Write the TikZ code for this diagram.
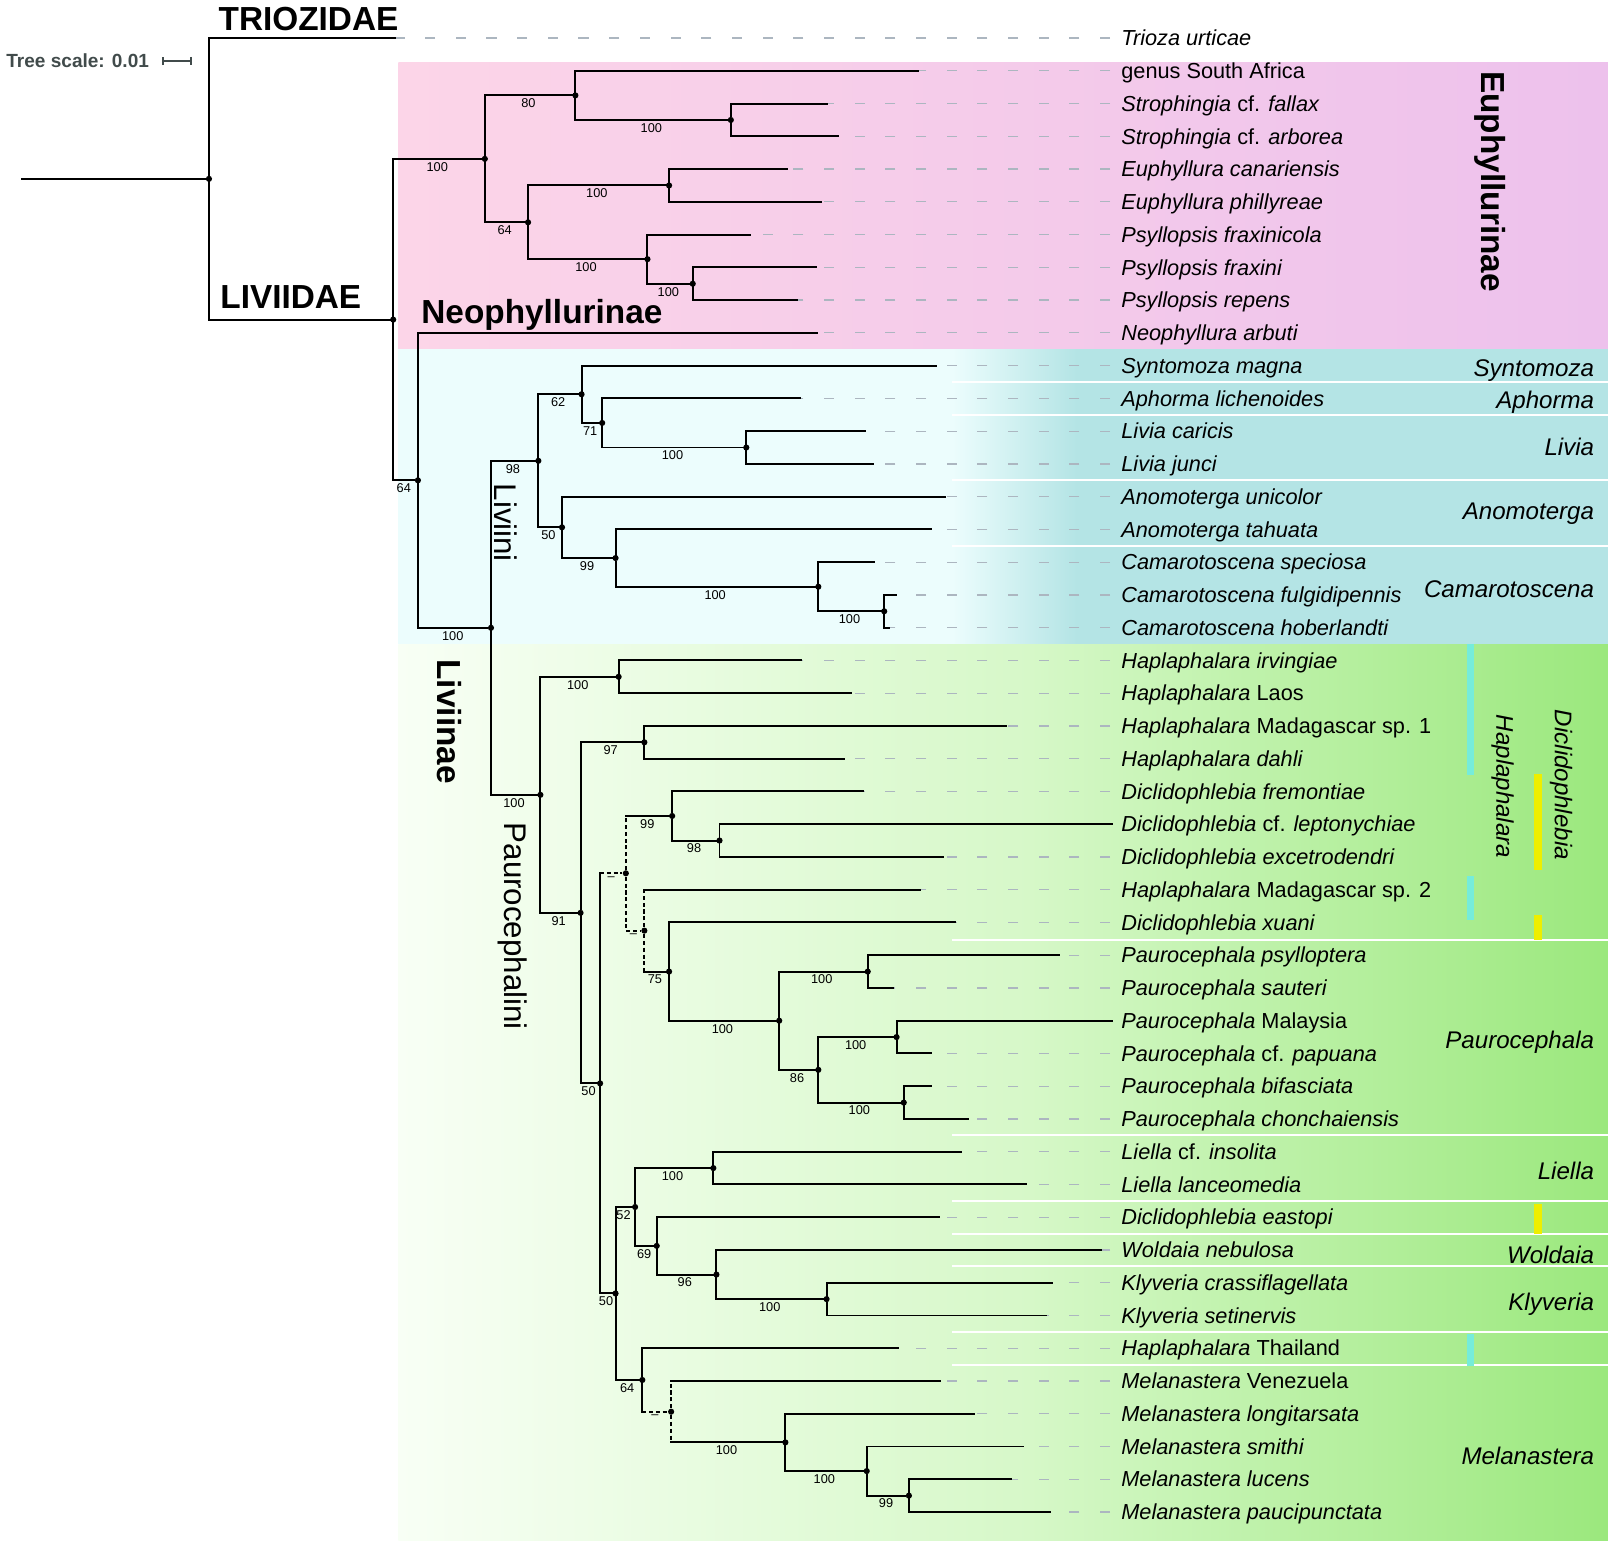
\documentclass[tikz,border=0pt]{standalone}
\usepackage{fontspec}
\setmainfont{Liberation Sans}
\usetikzlibrary{arrows.meta,positioning}
\definecolor{euphpink}{RGB}{252,213,232}
\definecolor{euphlilac}{RGB}{237,193,236}
\definecolor{livpale}{RGB}{236,253,253}
\definecolor{livteal}{RGB}{180,228,229}
\definecolor{paurpale}{RGB}{248,255,245}
\definecolor{paurmid}{RGB}{214,248,200}
\definecolor{paurgreen}{RGB}{155,232,125}
\definecolor{barcyan}{RGB}{118,236,218}
\definecolor{baryellow}{RGB}{238,238,0}
\definecolor{tipgray}{RGB}{172,182,192}
\definecolor{scalegray}{RGB}{65,75,75}

\begin{document}
\begin{tikzpicture}[
  x=0.5pt, y=-15.91pt,
  branch/.style={line width=0.95pt, line cap=rect},
  nosupport/.style={line width=0.95pt, dash pattern=on 2pt off 1.3pt},
  tipline/.style={draw=tipgray, line width=0.6pt, dash pattern=on 4.9pt off 10pt},
  sepline/.style={draw=white, line width=1pt},
  nodedot/.style={circle, fill=black, inner sep=0pt, minimum size=3pt},
  taxon/.style={anchor=west, inner xsep=5.3pt, inner ysep=0pt, text height=7.5pt,
                text depth=0pt, font=\fontsize{10.55}{12}\selectfont},
  genus/.style={anchor=east, inner sep=0pt, text height=8.4pt, text depth=0pt,
                font=\fontsize{11.7}{13}\selectfont\itshape},
  clade/.style={inner sep=0pt, font=\fontsize{16.2}{18}\selectfont\bfseries},
  tribe/.style={inner sep=0pt, font=\fontsize{15.2}{17}\selectfont},
  bs/.style={below=1.2pt, pos=.75, inner sep=0pt, font=\fontsize{6.2}{7}\selectfont}
]
\useasboundingbox (0,-1.163) rectangle (1568,46.04);

% Backgrounds
\shade[left color=euphpink, right color=euphlilac] (387,0.75) rectangle (1562,9.5);
\fill[livpale] (387,9.5) rectangle (926,18.5);
\shade[left color=livpale, right color=livteal] (925,9.5) rectangle (1046,18.5);
\fill[livteal] (1045,9.5) rectangle (1562,18.5);
\shade[left color=paurpale, right color=paurmid] (387,18.5) rectangle (1001,45.88);
\shade[left color=paurmid, right color=paurgreen] (1000,18.5) rectangle (1562,45.88);
\foreach \y in {10.5,11.5,13.5,15.5,27.55,33.5,35.5,36.5,37.5,39.5,40.5}
  \draw[sepline] (925,\y) -- (1562,\y);

% Genus bars
\fill[barcyan] (1425.5,18.5) rectangle (1432.3,22.5);
\fill[barcyan] (1425.5,25.58) rectangle (1432.3,26.93);
\fill[barcyan] (1425.5,39.57) rectangle (1432.3,40.54);
\fill[baryellow] (1490.5,22.47) rectangle (1497.8,25.39);
\fill[baryellow] (1490.5,26.78) rectangle (1497.8,27.53);
\fill[baryellow] (1490.5,35.6) rectangle (1497.8,36.5);

% Group labels
\node[clade, anchor=base west] (triozidae) at (212,-0.226) {TRIOZIDAE};
\node[clade, anchor=base west] (liviidae) at (213.7,8.253) {LIVIIDAE};
\node[clade, anchor=base west] (neophyllurinae) at (409,8.705) {Neophyllurinae};
\node[clade, rotate=-90] (euphyllurinae) at (1448,4.38) {Euphyllurinae};
\node[clade, rotate=-90] (liviinae-lab) at (437,20.87) {Liviinae};
\node[tribe, rotate=-90] (liviini-lab) at (491,14.8) {Liviini};
\node[tribe, rotate=-90] (paur-lab) at (498,27.12) {Paurocephalini};
\node[genus] (g-synto) at (1549,10.06) {Syntomoza};
\node[genus] (g-aphorma) at (1549,11.06) {Aphorma};
\node[genus] (g-livia) at (1549,12.48) {Livia};
\node[genus] (g-anomo) at (1549,14.42) {Anomoterga};
\node[genus] (g-camaro) at (1549,16.81) {Camarotoscena};
\node[genus, anchor=center, rotate=-90] (g-haplo) at (1462,22.85) {Haplaphalara};
\node[genus, anchor=center, rotate=-90] (g-diclido) at (1519,22.8) {Diclidophlebia};
\node[genus] (g-pauro) at (1549,30.58) {Paurocephala};
\node[genus] (g-liella) at (1549,34.57) {Liella};
\node[genus] (g-woldaia) at (1549,37.14) {Woldaia};
\node[genus] (g-klyveria) at (1549,38.59) {Klyveria};
\node[genus] (g-melan) at (1549,43.3) {Melanastera};

% Tree scale
\node[anchor=west, inner sep=0pt, font=\fontsize{9.25}{11}\selectfont\bfseries,
      text=scalegray] (tscale) at (5.8,0.7) {Tree scale: 0.01};
\coordinate[right=6.2pt of tscale.east] (sb-l);
\coordinate[right=14.5pt of sb-l] (sb-r);
\draw[scalegray, line width=0.8pt, {Bar[width=4pt]}-{Bar[width=4pt]}] (sb-l) -- (sb-r);

% Taxa
\node[taxon] (trioza) at (1078.4,0) {\textit{Trioza urticae}}; \coordinate (trioza-t) at (384,0);
\node[taxon] (gsa) at (1078.4,1) {genus South Africa}; \coordinate (gsa-t) at (892,1);
\node[taxon] (fallax) at (1078.4,2) {\textit{Strophingia} cf. \textit{fallax}}; \coordinate (fallax-t) at (803,2);
\node[taxon] (arborea) at (1078.4,3) {\textit{Strophingia} cf. \textit{arborea}}; \coordinate (arborea-t) at (814,3);
\node[taxon] (canar) at (1078.4,4) {\textit{Euphyllura canariensis}}; \coordinate (canar-t) at (765,4);
\node[taxon] (phill) at (1078.4,5) {\textit{Euphyllura phillyreae}}; \coordinate (phill-t) at (798,5);
\node[taxon] (fraxinicola) at (1078.4,6) {\textit{Psyllopsis fraxinicola}}; \coordinate (fraxinicola-t) at (729,6);
\node[taxon] (fraxini) at (1078.4,7) {\textit{Psyllopsis fraxini}}; \coordinate (fraxini-t) at (793,7);
\node[taxon] (repens) at (1078.4,8) {\textit{Psyllopsis repens}}; \coordinate (repens-t) at (774,8);
\node[taxon] (neophyllura) at (1078.4,9) {\textit{Neophyllura arbuti}}; \coordinate (neophyllura-t) at (794,9);
\node[taxon] (syntomoza) at (1078.4,10) {\textit{Syntomoza magna}}; \coordinate (syntomoza-t) at (909,10);
\node[taxon] (aphorma) at (1078.4,11) {\textit{Aphorma lichenoides}}; \coordinate (aphorma-t) at (777,11);
\node[taxon] (caricis) at (1078.4,12) {\textit{Livia caricis}}; \coordinate (caricis-t) at (840,12);
\node[taxon] (junci) at (1078.4,13) {\textit{Livia junci}}; \coordinate (junci-t) at (848,13);
\node[taxon] (unicolor) at (1078.4,14) {\textit{Anomoterga unicolor}}; \coordinate (unicolor-t) at (918,14);
\node[taxon] (tahuata) at (1078.4,15) {\textit{Anomoterga tahuata}}; \coordinate (tahuata-t) at (904,15);
\node[taxon] (speciosa) at (1078.4,16) {\textit{Camarotoscena speciosa}}; \coordinate (speciosa-t) at (849,16);
\node[taxon] (fulgidi) at (1078.4,17) {\textit{Camarotoscena fulgidipennis}}; \coordinate (fulgidi-t) at (870,17);
\node[taxon] (hoberl) at (1078.4,18) {\textit{Camarotoscena hoberlandti}}; \coordinate (hoberl-t) at (864,18);
\node[taxon] (irving) at (1078.4,19) {\textit{Haplaphalara irvingiae}}; \coordinate (irving-t) at (778,19);
\node[taxon] (laos) at (1078.4,20) {\textit{Haplaphalara} Laos}; \coordinate (laos-t) at (827,20);
\node[taxon] (mad1) at (1078.4,21) {\textit{Haplaphalara} Madagascar sp. 1}; \coordinate (mad1-t) at (977,21);
\node[taxon] (dahli) at (1078.4,22) {\textit{Haplaphalara dahli}}; \coordinate (dahli-t) at (820,22);
\node[taxon] (fremont) at (1078.4,23) {\textit{Diclidophlebia fremontiae}}; \coordinate (fremont-t) at (838,23);
\node[taxon] (lepto) at (1078.4,24) {\textit{Diclidophlebia} cf. \textit{leptonychiae}}; \coordinate (lepto-t) at (1080,24);
\node[taxon] (excet) at (1078.4,25) {\textit{Diclidophlebia excetrodendri}}; \coordinate (excet-t) at (916,25);
\node[taxon] (mad2) at (1078.4,26) {\textit{Haplaphalara} Madagascar sp. 2}; \coordinate (mad2-t) at (894,26);
\node[taxon] (xuani) at (1078.4,27) {\textit{Diclidophlebia xuani}}; \coordinate (xuani-t) at (928,27);
\node[taxon] (psyllo) at (1078.4,28) {\textit{Paurocephala psylloptera}}; \coordinate (psyllo-t) at (1029,28);
\node[taxon] (sauteri) at (1078.4,29) {\textit{Paurocephala sauteri}}; \coordinate (sauteri-t) at (868,29);
\node[taxon] (malaysia) at (1078.4,30) {\textit{Paurocephala} Malaysia}; \coordinate (malaysia-t) at (1080,30);
\node[taxon] (papuana) at (1078.4,31) {\textit{Paurocephala} cf. \textit{papuana}}; \coordinate (papuana-t) at (904,31);
\node[taxon] (bifasc) at (1078.4,32) {\textit{Paurocephala bifasciata}}; \coordinate (bifasc-t) at (904,32);
\node[taxon] (chonch) at (1078.4,33) {\textit{Paurocephala chonchaiensis}}; \coordinate (chonch-t) at (940,33);
\node[taxon] (insolita) at (1078.4,34) {\textit{Liella} cf. \textit{insolita}}; \coordinate (insolita-t) at (934,34);
\node[taxon] (lanceo) at (1078.4,35) {\textit{Liella lanceomedia}}; \coordinate (lanceo-t) at (997,35);
\node[taxon] (eastopi) at (1078.4,36) {\textit{Diclidophlebia eastopi}}; \coordinate (eastopi-t) at (912,36);
\node[taxon] (woldaia) at (1078.4,37) {\textit{Woldaia nebulosa}}; \coordinate (woldaia-t) at (1070,37);
\node[taxon] (crass) at (1078.4,38) {\textit{Klyveria crassiflagellata}}; \coordinate (crass-t) at (1022,38);
\node[taxon] (setin) at (1078.4,39) {\textit{Klyveria setinervis}}; \coordinate (setin-t) at (1016,39);
\node[taxon] (thailand) at (1078.4,40) {\textit{Haplaphalara} Thailand}; \coordinate (thailand-t) at (872,40);
\node[taxon] (venez) at (1078.4,41) {\textit{Melanastera} Venezuela}; \coordinate (venez-t) at (913,41);
\node[taxon] (longit) at (1078.4,42) {\textit{Melanastera longitarsata}}; \coordinate (longit-t) at (946,42);
\node[taxon] (smithi) at (1078.4,43) {\textit{Melanastera smithi}}; \coordinate (smithi-t) at (994,43);
\node[taxon] (lucens) at (1078.4,44) {\textit{Melanastera lucens}}; \coordinate (lucens-t) at (982,44);
\node[taxon] (pauci) at (1078.4,45) {\textit{Melanastera paucipunctata}}; \coordinate (pauci-t) at (1020,45);

\foreach \n in {trioza,gsa,fallax,arborea,canar,phill,fraxinicola,fraxini,repens,
  neophyllura,syntomoza,aphorma,caricis,junci,unicolor,tahuata,speciosa,fulgidi,
  hoberl,irving,laos,mad1,dahli,fremont,lepto,excet,mad2,xuani,psyllo,sauteri,
  malaysia,papuana,bifasc,chonch,insolita,lanceo,eastopi,woldaia,crass,setin,
  thailand,venez,longit,smithi,lucens,pauci}
  \draw[tipline] (\n.west) -- (\n-t);

% Internal nodes
\coordinate (stem) at (21,4.2975);
\node[nodedot] (root) at (203,4.2975) {};
\node[nodedot] (liv) at (382,8.595) {};
\node[nodedot] (euph) at (471,3.6875) {};
\node[nodedot] (n80) at (559,1.75) {};
\node[nodedot] (nstr) at (710,2.5) {};
\node[nodedot] (n64e) at (513,5.625) {};
\node[nodedot] (neu) at (650,4.5) {};
\node[nodedot] (npsy) at (629,6.75) {};
\node[nodedot] (npsy2) at (673,7.5) {};
\node[nodedot] (n64a) at (406,13.5025) {};
\node[nodedot] (liviinae) at (477,18.005) {};
\node[nodedot] (liviini) at (523,12.906) {};
\node[nodedot] (n62) at (565,10.875) {};
\node[nodedot] (n71) at (585,11.75) {};
\node[nodedot] (nliv) at (725,12.5) {};
\node[nodedot] (n50a) at (546,14.9375) {};
\node[nodedot] (n99a) at (598,15.875) {};
\node[nodedot] (ncam) at (795,16.75) {};
\node[nodedot] (ncam2) at (859,17.5) {};
\node[nodedot] (paur) at (525,23.104) {};
\node[nodedot] (nhap) at (601,19.5) {};
\node[nodedot] (n91) at (564,26.707) {};
\node[nodedot] (n97) at (626,21.5) {};
\node[nodedot] (n50b) at (583,31.914) {};
\node[nodedot] (dsh1) at (608,25.5) {};
\node[nodedot] (n99b) at (653,23.75) {};
\node[nodedot] (n98) at (699,24.5) {};
\node[nodedot] (dsh2) at (626,27.25) {};
\node[nodedot] (n75) at (650,28.5) {};
\node[nodedot] (nps) at (757,30) {};
\node[nodedot] (npsy3) at (843,28.5) {};
\node[nodedot] (n86) at (795,31.5) {};
\node[nodedot] (nmal) at (871,30.5) {};
\node[nodedot] (nbif) at (878,32.5) {};
\node[nodedot] (n50c) at (598,38.328) {};
\node[nodedot] (n52) at (617,35.6875) {};
\node[nodedot] (nlie) at (693,34.5) {};
\node[nodedot] (n69) at (638,36.875) {};
\node[nodedot] (n96) at (696,37.75) {};
\node[nodedot] (nkly) at (803,38.5) {};
\node[nodedot] (n64b) at (624,40.96875) {};
\node[nodedot] (dsh3) at (652,41.9375) {};
\node[nodedot] (nmel) at (763,42.875) {};
\node[nodedot] (nmel2) at (842,43.75) {};
\node[nodedot] (n99c) at (883,44.5) {};

% Liviidae
\draw[branch] (stem) -- (root);
\draw[branch] (root) |- (trioza-t);
\draw[branch] (root) |- (liv);
\draw[branch] (liv) |- node[bs] {100} (euph);
\draw[branch] (liv) |- node[bs] {64} (n64a);

% Euphyllurinae
\draw[branch] (euph) |- node[bs] {80} (n80);
\draw[branch] (euph) |- node[bs] {64} (n64e);
\draw[branch] (n80) |- (gsa-t);
\draw[branch] (n80) |- node[bs] {100} (nstr);
\draw[branch] (nstr) |- (fallax-t);
\draw[branch] (nstr) |- (arborea-t);
\draw[branch] (n64e) |- node[bs] {100} (neu);
\draw[branch] (n64e) |- node[bs] {100} (npsy);
\draw[branch] (neu) |- (canar-t);
\draw[branch] (neu) |- (phill-t);
\draw[branch] (npsy) |- (fraxinicola-t);
\draw[branch] (npsy) |- node[bs] {100} (npsy2);
\draw[branch] (npsy2) |- (fraxini-t);
\draw[branch] (npsy2) |- (repens-t);

% Neophyllurinae + Liviinae
\draw[branch] (n64a) |- (neophyllura-t);
\draw[branch] (n64a) |- node[bs] {100} (liviinae);
\draw[branch] (liviinae) |- node[bs] {98} (liviini);
\draw[branch] (liviinae) |- node[bs] {100} (paur);

% Liviini
\draw[branch] (liviini) |- node[bs] {62} (n62);
\draw[branch] (liviini) |- node[bs] {50} (n50a);
\draw[branch] (n62) |- (syntomoza-t);
\draw[branch] (n62) |- node[bs] {71} (n71);
\draw[branch] (n71) |- (aphorma-t);
\draw[branch] (n71) |- node[bs] {100} (nliv);
\draw[branch] (nliv) |- (caricis-t);
\draw[branch] (nliv) |- (junci-t);
\draw[branch] (n50a) |- (unicolor-t);
\draw[branch] (n50a) |- node[bs] {99} (n99a);
\draw[branch] (n99a) |- (tahuata-t);
\draw[branch] (n99a) |- node[bs] {100} (ncam);
\draw[branch] (ncam) |- (speciosa-t);
\draw[branch] (ncam) |- node[bs] {100} (ncam2);
\draw[branch] (ncam2) |- (fulgidi-t);
\draw[branch] (ncam2) |- (hoberl-t);

% Paurocephalini
\draw[branch] (paur) |- node[bs] {100} (nhap);
\draw[branch] (paur) |- node[bs] {91} (n91);
\draw[branch] (nhap) |- (irving-t);
\draw[branch] (nhap) |- (laos-t);
\draw[branch] (n91) |- node[bs] {97} (n97);
\draw[branch] (n91) |- node[bs] {50} (n50b);
\draw[branch] (n97) |- (mad1-t);
\draw[branch] (n97) |- (dahli-t);
% unsupported nodes: dashed
\draw[branch] (n50b) -- (n50b |- dsh1);
\draw[nosupport] (n50b |- dsh1) -- node[bs, pos=.5] {--} (dsh1);
\draw[nosupport] (dsh1) -- (dsh1 |- n99b);
\draw[branch] (dsh1 |- n99b) -- node[bs, pos=.5] {99} (n99b);
\draw[nosupport] (dsh1) |- node[bs] {--} (dsh2);
\draw[branch] (n99b) |- (fremont-t);
\draw[branch] (n99b) |- node[bs] {98} (n98);
\draw[branch] (n98) |- (lepto-t);
\draw[branch] (n98) |- (excet-t);
\draw[nosupport] (dsh2) -- (dsh2 |- mad2-t);
\draw[branch] (dsh2 |- mad2-t) -- (mad2-t);
\draw[nosupport] (dsh2) -- (dsh2 |- n75);
\draw[branch] (dsh2 |- n75) -- node[bs, pos=.5] {75} (n75);
\draw[branch] (n75) |- (xuani-t);
\draw[branch] (n75) |- node[bs] {100} (nps);
\draw[branch] (nps) |- node[bs] {100} (npsy3);
\draw[branch] (nps) |- node[bs] {86} (n86);
\draw[branch] (npsy3) |- (psyllo-t);
\draw[branch] (npsy3) |- (sauteri-t);
\draw[branch] (n86) |- node[bs] {100} (nmal);
\draw[branch] (n86) |- node[bs] {100} (nbif);
\draw[branch] (nmal) |- (malaysia-t);
\draw[branch] (nmal) |- (papuana-t);
\draw[branch] (nbif) |- (bifasc-t);
\draw[branch] (nbif) |- (chonch-t);
\draw[branch] (n50b) |- node[bs] {50} (n50c);
\draw[branch] (n50c) |- node[bs] {52} (n52);
\draw[branch] (n50c) |- node[bs] {64} (n64b);
\draw[branch] (n52) |- node[bs] {100} (nlie);
\draw[branch] (n52) |- node[bs] {69} (n69);
\draw[branch] (nlie) |- (insolita-t);
\draw[branch] (nlie) |- (lanceo-t);
\draw[branch] (n69) |- (eastopi-t);
\draw[branch] (n69) |- node[bs] {96} (n96);
\draw[branch] (n96) |- (woldaia-t);
\draw[branch] (n96) |- node[bs] {100} (nkly);
\draw[branch] (nkly) |- (crass-t);
\draw[branch] (nkly) |- (setin-t);
\draw[branch] (n64b) |- (thailand-t);
\draw[branch] (n64b) -- (n64b |- dsh3);
\draw[nosupport] (n64b |- dsh3) -- node[bs, pos=.5] {--} (dsh3);
\draw[nosupport] (dsh3) -- (dsh3 |- venez-t);
\draw[branch] (dsh3 |- venez-t) -- (venez-t);
\draw[nosupport] (dsh3) -- (dsh3 |- nmel);
\draw[branch] (dsh3 |- nmel) -- node[bs, pos=.5] {100} (nmel);
\draw[branch] (nmel) |- (longit-t);
\draw[branch] (nmel) |- node[bs] {100} (nmel2);
\draw[branch] (nmel2) |- (smithi-t);
\draw[branch] (nmel2) |- node[bs] {99} (n99c);
\draw[branch] (n99c) |- (lucens-t);
\draw[branch] (n99c) |- (pauci-t);

\end{tikzpicture}
\end{document}
